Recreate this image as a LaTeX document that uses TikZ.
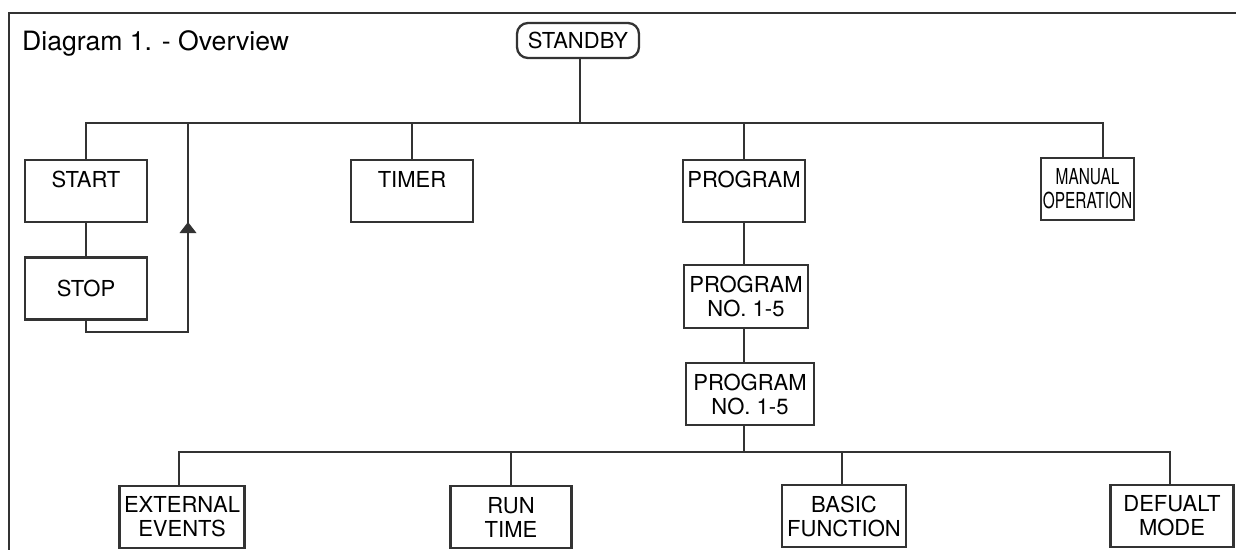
\documentclass[tikz,border=0pt]{standalone}
\usepackage{fontspec}
\setmainfont{TeX Gyre Heros}
\usetikzlibrary{arrows.meta}
\definecolor{ink}{HTML}{333333}
\tikzset{
  box/.style={draw=ink, line width=2.3pt, rectangle, align=center,
    minimum width=122pt, minimum height=62pt, inner sep=0pt,
    font=\fontsize{22}{24}\selectfont},
  pill/.style={box, rounded corners=11pt, minimum height=35pt},
  link/.style={draw=ink, line width=2pt},
  frame/.style={draw=ink, line width=2pt}
}
\newcommand{\narrow}[1]{\scalebox{0.7}[1]{#1}}
\begin{document}
\begin{tikzpicture}[x=1pt,y=-1pt]
\useasboundingbox (0,0) rectangle (1236,550);
% outer frame (top and left edges)
\draw[frame] (1236,13) -- (9,13) -- (9,550);
\node[anchor=base west, inner sep=0pt, font=\fontsize{26.6}{30}\selectfont] (title) at (22,50) {Diagram 1. - Overview};

% top level
\node[pill] (standby) at (578,40.5) {STANDBY};
\coordinate (bus1) at (580,123);

\node[box] (start)  at (86,191)   {START\\\mbox{}};
\node[box] (stop)   at (86,288.5) {STOP};
\node[box] (timer)  at (412,191)  {TIMER\\\mbox{}};
\node[box] (program) at (744,191) {PROGRAM\\\mbox{}};
\node[box, minimum width=93pt] (manual) at (1087.5,189) {\narrow{MANUAL}\\\narrow{OPERATION}};

\draw[link] (standby.south -| bus1) -- (bus1);
\draw[link] (start.north) |- (bus1) -| (manual.north -| 1103,0);
\draw[link] (timer.north) -- (timer.north |- bus1);
\draw[link] (program.north) -- (program.north |- bus1);
\draw[link] (start.south) -- (stop.north);

% return path from STOP back to the bus
\coordinate (loopB) at (188,332);
\coordinate (loopTip) at (188,222);
\coordinate (loopT) at (188,123);
\draw[link] (stop.south) |- (loopB) -- (loopT);
\fill[ink] (loopTip) -- ++(-8.5,11) -- ++(17,0) -- cycle;

% program chain
\node[box, minimum width=124pt, minimum height=63pt] (pno1) at (746,296.5) {PROGRAM\\NO. 1-5};
\node[box, minimum width=128pt] (pno2) at (750,394) {PROGRAM\\NO. 1-5};
\draw[link] (program.south) -- (program.south |- pno1.north);
\draw[link] (program.south |- pno1.south) -- (program.south |- pno2.north);

% second level
\coordinate (bus2) at (744,452);
\node[box, minimum width=125pt] (ext)  at (182,517) {EXTERNAL\\EVENTS};
\node[box, minimum width=121pt] (run)  at (511,517) {RUN\\TIME};
\node[box, minimum width=124pt] (basic) at (844,516) {BASIC\\FUNCTION};
\node[box, minimum width=123pt] (def)  at (1172,516) {DEFUALT\\MODE};
\draw[link] (program.south |- pno2.south) -- (bus2);
\draw[link] (ext.north -| 179,0) |- (bus2) -| (def.north -| 1170,0);
\draw[link] (run.north) -- (run.north |- bus2);
\draw[link] (basic.north -| 842,0) -- (bus2 -| 842,0);
\end{tikzpicture}
\end{document}
